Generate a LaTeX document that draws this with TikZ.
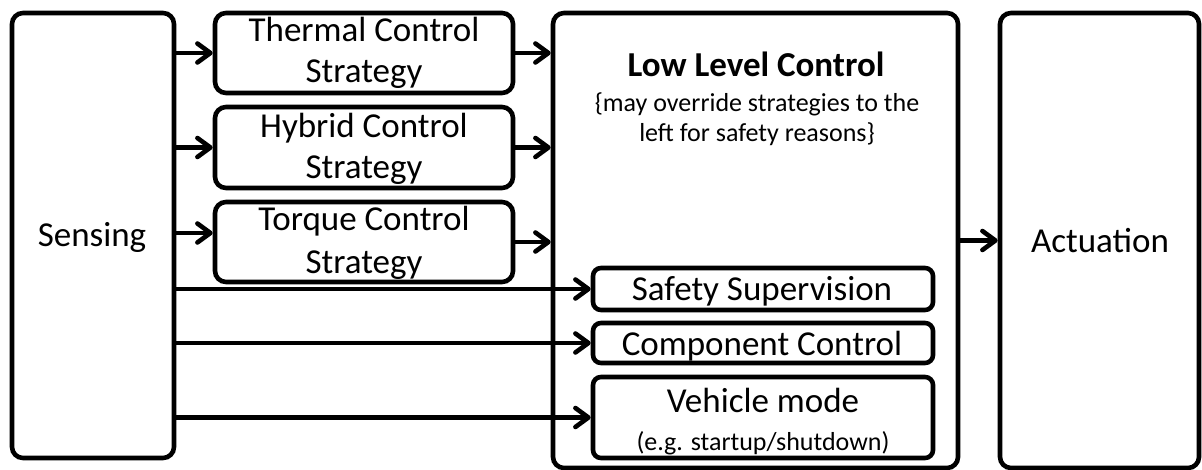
\documentclass[tikz,border=0pt]{standalone}
\usepackage{fontspec}
\setmainfont{Carlito}
\usetikzlibrary{arrows.meta}
\begin{document}
\begin{tikzpicture}[x=1pt,y=-1pt,
  box/.style={draw, line width=4.6pt, rounded corners=11pt, inner sep=0pt},
  ibox/.style={draw, line width=4.6pt, rounded corners=8pt, inner sep=0pt},
  big/.style={font=\fontsize{35}{41}\selectfont, inner sep=0pt, anchor=base},
  small/.style={font=\fontsize{26}{29}\selectfont, inner sep=0pt, anchor=base},
  arr/.style={line width=4.6pt, -{Straight Barb[length=13pt,width=19pt,round]}}]
\useasboundingbox (0,0) rectangle (1202,470);
% main boxes
\node[box, minimum width=162pt, minimum height=445pt] (sensing) at (93,235.5) {};
\node[box, minimum width=405pt, minimum height=455pt] (llc) at (755.5,240.5) {};
\node[box, minimum width=199pt, minimum height=455pt] (act) at (1099.5,240.5) {};
% strategy boxes
\node[box, minimum width=298pt, minimum height=80pt] (thermal) at (364,53) {};
\node[box, minimum width=298pt, minimum height=81pt] (hybrid) at (364,147.5) {};
\node[box, minimum width=298pt, minimum height=80pt] (torque) at (364,242) {};
% inner boxes
\node[ibox, minimum width=340pt, minimum height=42pt] (safety) at (763,289) {};
\node[ibox, minimum width=340pt, minimum height=40pt] (comp) at (763,343) {};
\node[ibox, minimum width=340pt, minimum height=81pt] (veh) at (763,417.5) {};
% texts
\node[big] (tsens) at (92,247) {Sensing};
\node[big] (tact) at (1100,253) {Actuation};
\node[big] (tth1) at (364,42) {Thermal Control};
\node[big] (tth2) at (364,83) {Strategy};
\node[big] (thy1) at (364,138) {Hybrid Control};
\node[big] (thy2) at (364,179) {Strategy};
\node[big] (ttq1) at (364,231) {Torque Control};
\node[big] (ttq2) at (364,274) {Strategy};
\node[big, font=\fontsize{35}{41}\selectfont\bfseries] (tllc) at (756,77) {Low Level Control};
\node[small] (tsub1) at (757,112) {\{may override strategies to the};
\node[small] (tsub2) at (757,142) {left for safety reasons\}};
\node[big] (tsaf) at (762,301) {Safety Supervision};
\node[big] (tcomp) at (762,355) {Component Control};
\node[big] (tveh) at (763,412) {Vehicle mode};
\node[small] (tveh2) at (763,450) {(e.g. startup/shutdown)};
% arrows
\coordinate (tq) at ([yshift=9pt]torque.west);
\draw[arr] (sensing.east |- thermal.west) -- (thermal.west);
\draw[arr] (sensing.east |- hybrid.west) -- (hybrid.west);
\draw[arr] (sensing.east |- tq) -- (tq);
\draw[arr] (thermal.east) -- (thermal.east -| llc.west);
\draw[arr] (hybrid.east) -- (hybrid.east -| llc.west);
\draw[arr] (torque.east) -- (torque.east -| llc.west);
\draw[arr] (sensing.east |- safety.west) -- (safety.west);
\draw[arr] (sensing.east |- comp.west) -- (comp.west);
\draw[arr] (sensing.east |- veh.west) -- (veh.west);
\draw[arr] (llc.east) -- (llc.east -| act.west);
\end{tikzpicture}
\end{document}
